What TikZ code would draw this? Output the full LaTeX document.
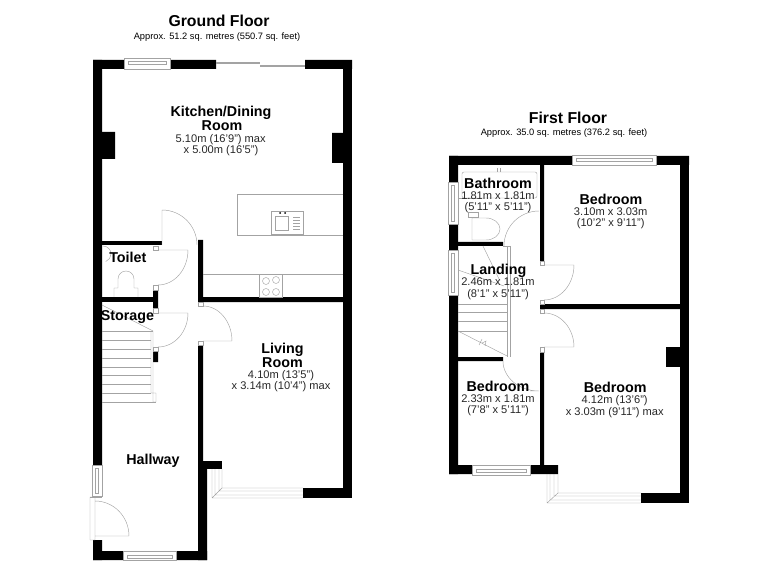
\documentclass[tikz,border=0pt]{standalone}
\usepackage{fontspec}
\setmainfont{Liberation Sans}
\tikzset{
    % solid wall style
    wall/.style = {fill=black},
    % thin grey outline for windows, doors and fittings
    fitting/.style = {draw=black!36, line width=0.45pt},
    % room labels
    room name/.style = {font=\fontsize{14.3}{15}\selectfont\bfseries, inner sep=0pt, anchor=base},
    room size/.style = {font=\fontsize{11.1}{12}\selectfont, inner sep=0pt, anchor=base, text=black!85},
    floor name/.style = {font=\fontsize{15.8}{16}\selectfont\bfseries, inner sep=0pt, anchor=base},
    floor size/.style = {font=\fontsize{9.3}{10}\selectfont, inner sep=0pt, anchor=base}
}
\begin{document}
\begin{tikzpicture}[x=1pt, y=-1pt]
        \useasboundingbox (0,0) rectangle (780,567);
        % ground floor outer walls
        \fill[wall] (93,60) rectangle (124,69) (170,60) rectangle (216,69) (305,60) rectangle (352,69);
        \fill[wall] (93,60) rectangle (102,465) (93,540) rectangle (102,560);
        \fill[wall] (343,60) rectangle (352,498);
        \fill[wall] (93,551) rectangle (123,560) (176,551) rectangle (207,560);
        \fill[wall] (303,488) rectangle (352,498);
        % ground floor chimney breasts
        \fill[wall] (102,132) rectangle (115,159) (332,133) rectangle (343,163);
        % ground floor inner walls
        \fill[wall] (102,241) rectangle (162,245);
        \fill[wall] (102,297) rectangle (158,302);
        \fill[wall] (153,290) rectangle (158,308) (153,351) rectangle (158,362);
        \fill[wall] (198,240) rectangle (203,302) (198,297) rectangle (343,302);
        \fill[wall] (198,345) rectangle (203,461) (198,461) rectangle (207,560);
        \fill[wall] (198,461) rectangle (222,469);
        % ground floor windows
        \draw[fitting] (124,58) rectangle (170,69) (128,61) rectangle (166,64) (128,64) -- (166,64);
        \draw[fitting] (216,62) -- (260,62) (216,63.5) -- (260,63.5) (260,65) -- (305,65) (260,66.5) -- (305,66.5);
        \draw[fitting] (92,465) rectangle (102,496) (95,468) rectangle (98,493);
        \draw[fitting] (123,551) rectangle (176,560) (127,555) rectangle (172,558);
        \draw[fitting] (212,469) -- (212,498) -- (303,498) (222,469) -- (222,488) -- (303,488) (215,469) -- (215,495) -- (303,495) (219,469) -- (219,491) -- (303,491) (212,498) -- (222,488);
        % ground floor doors
        \draw[fitting] (162,245) -- (162,210) arc[start angle=90, end angle=0, radius=35pt];
        \draw[fitting] (153,246) rectangle (158,250) (153,285) rectangle (158,290);
        \draw[fitting] (158,250) -- (188,250) arc[start angle=0, end angle=-90, x radius=30pt, y radius=35pt];
        \draw[fitting] (153,308) rectangle (158,313) (153,347) rectangle (158,351);
        \draw[fitting] (158,313) -- (188,313) arc[start angle=0, end angle=-90, x radius=30pt, y radius=34pt];
        \draw[fitting] (198,302) rectangle (203,306) (198,341) rectangle (203,345);
        \draw[fitting] (203,306) arc[start angle=90, end angle=0, x radius=29pt, y radius=35pt] -- (203,341);
        \draw[fitting] (90,497) rectangle (95,540) (95,501) arc[start angle=90, end angle=0, x radius=34pt, y radius=35pt] -- (95,536);
        \draw[fitting] (90,497) -- (102,497);
        % ground floor stairs
        \draw[fitting] (102,331) -- (153,331) (102,340) -- (151,340) (102,349) -- (151,349) (102,358) -- (151,358) (102,367) -- (151,367) (102,375) -- (151,375) (102,384) -- (151,384) (102,393) -- (151,393) (102,402) -- (156,402);
        \draw[fitting] (102,305) -- (153,331) (151,331) -- (151,393) (153,331) -- (153,393) rectangle (156,402) (151,393) -- (156,393);
        % kitchen fittings
        \draw[fitting] (343,194) -- (237,194) -- (237,235) -- (343,235);
        \draw[fitting] (271,211) rectangle (303,234) (275,216) rectangle (288,230);
        \draw[fitting] (293,217) -- (300,217) (293,220) -- (300,220) (293,223) -- (300,223) (293,226) -- (300,226) (293,229) -- (300,229);
        \fill (280,213) circle (1pt) (285,213) circle (1pt);
        \draw[fitting] (203,274) -- (343,274) (259,274) rectangle (282,297);
        \draw[fitting] (266,281) circle (3.5pt) (276,280) circle (3.5pt) (266,292) circle (3.5pt) (276,292) circle (3.5pt);
        % toilet fittings
        \draw[fitting] (103,246) arc[start angle=90, end angle=-70, radius=8pt];
        \draw[fitting] (114,297) -- (114,288) -- (118,288) -- (118,279) arc[start angle=180, end angle=0, radius=8pt] -- (134,288) -- (138,288) -- (138,297);
        % first floor outer walls
        \fill[wall] (449,156) rectangle (572,165) (656,156) rectangle (689,165);
        \fill[wall] (449,156) rectangle (458,182) (449,225) rectangle (458,250) (449,295) rectangle (458,474);
        \fill[wall] (680,156) rectangle (689,503);
        \fill[wall] (449,465) rectangle (472,474) (530,465) rectangle (558,474);
        \fill[wall] (641,493) rectangle (689,503);
        \fill[wall] (666,347) rectangle (680,367);
        % first floor inner walls
        \fill[wall] (540,165) rectangle (544,261) (540,304) rectangle (680,309) (540,352) rectangle (544,465);
        \fill[wall] (458,242) rectangle (503,246) (458,357) rectangle (503,361);
        % first floor windows
        \draw[fitting] (572,155) rectangle (656,165) (576,158) rectangle (652,161);
        \draw[fitting] (448,182) rectangle (458,224) (451,185) rectangle (454,221);
        \draw[fitting] (448,250) rectangle (458,295) (451,253) rectangle (454,292);
        \draw[fitting] (472,465) rectangle (530,475) (476,469) rectangle (526,472);
        \draw[fitting] (547,474) -- (547,503) -- (641,503) (558,474) -- (558,493) -- (641,493) (550,474) -- (550,500) -- (641,500) (554,474) -- (554,496) -- (641,496) (547,503) -- (558,493);
        % first floor doors
        \draw[fitting] (504,246) arc[start angle=180, end angle=90, radius=35pt];
        \draw[fitting] (540,261) rectangle (544,265) (540,300) rectangle (544,304);
        \draw[fitting] (544,265) -- (574,265) arc[start angle=0, end angle=-90, x radius=30pt, y radius=35pt];
        \draw[fitting] (540,309) rectangle (544,313) (540,347) rectangle (544,352);
        \draw[fitting] (544,347) -- (574,347) arc[start angle=0, end angle=90, x radius=30pt, y radius=34pt];
        \draw[fitting] (503,361) arc[start angle=180, end angle=270, x radius=36pt, y radius=30pt] -- (530,391);
        % first floor stairs
        \draw[fitting] (458,304) -- (507,304) (458,312) -- (507,312) (458,321) -- (507,321) (458,331) -- (507,331);
        \draw[fitting] (458,331) -- (507,356) (479,345) -- (482,339) (482,343) -- (486,341) -- (485,346);
        \draw[fitting] (507,246) -- (507,357) (510,246) -- (510,357) (503,246) -- (510,246);
        \draw[fitting] (483,246) -- (500,281) (458,270) -- (504,286);
        % bathroom fittings
        \draw[fitting, rounded corners=2pt] (462,172) rectangle (537,198);
        \draw[fitting] (497,168) -- (497,172) (500,168) -- (500,172);
        \draw[fitting] (458,198) -- (478,198) (468,212) rectangle (478,217);
        \draw[fitting] (472,218) -- (472,240) (472,218) -- (486,218) arc[start angle=90, end angle=-90, x radius=14pt, y radius=11pt] -- (472,240);
        % floor headings
        \node[floor name] (ground floor) at (219,27) {Ground Floor};
        \node[floor size] (ground area) at (217,40) {Approx. 51.2 sq. metres (550.7 sq. feet)};
        \node[floor name] (first floor) at (568,123.5) {First Floor};
        \node[floor size] (first area) at (564,136) {Approx. 35.0 sq. metres (376.2 sq. feet)};
        % ground floor labels
        \node[room name] (kitchen) at (221,116.7) {Kitchen/Dining};
        \node[room name] (kitchen b) at (222,130.7) {Room};
        \node[room size] (kitchen c) at (220.7,142.3) {5.10m (16'9") max};
        \node[room size] (kitchen d) at (221,153.3) {x 5.00m (16'5")};
        \node[room name] (toilet) at (127.8,262.7) {Toilet};
        \node[room name] (storage) at (127.5,320) {Storage};
        \node[room name] (living) at (282.5,353.3) {Living};
        \node[room name] (living b) at (282.5,367.3) {Room};
        \node[room size] (living c) at (281,378.3) {4.10m (13'5")};
        \node[room size] (living d) at (281,389.7) {x 3.14m (10'4") max};
        \node[room name] (hallway) at (153,464.3) {Hallway};
        % first floor labels
        \node[room name] (bathroom) at (498,188.7) {Bathroom};
        \node[room size] (bathroom c) at (498,200) {1.81m x 1.81m};
        \node[room size] (bathroom d) at (498,211) {(5'11" x 5'11")};
        \node[room name] (bedroom one) at (611,204.3) {Bedroom};
        \node[room size] (bedroom one c) at (610.7,215.3) {3.10m x 3.03m};
        \node[room size] (bedroom one d) at (610.7,226.7) {(10'2" x 9'11")};
        \node[room name] (landing) at (498.5,274) {Landing};
        \node[room size] (landing c) at (498,285.7) {2.46m x 1.81m};
        \node[room size] (landing d) at (498,297) {(8'1" x 5'11")};
        \node[room name] (bedroom two) at (498,391) {Bedroom};
        \node[room size] (bedroom two c) at (498,402.7) {2.33m x 1.81m};
        \node[room size] (bedroom two d) at (498,413.7) {(7'8" x 5'11")};
        \node[room name] (bedroom three) at (615.3,392.3) {Bedroom};
        \node[room size] (bedroom three c) at (614.7,403.3) {4.12m (13'6")};
        \node[room size] (bedroom three d) at (614.7,415) {x 3.03m (9'11") max};
    \end{tikzpicture}
\end{document}
